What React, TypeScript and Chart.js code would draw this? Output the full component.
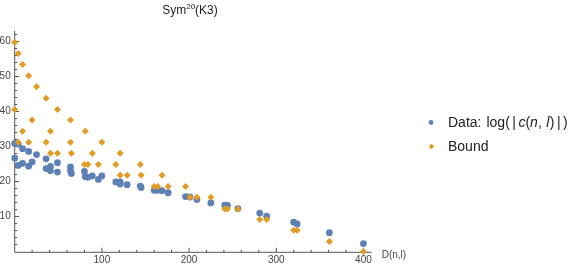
import React, { useEffect, useRef } from 'react';
import { Chart, registerables } from 'chart.js';

Chart.register(...registerables);

// D(n,l) values (shared by both series)
const dnl = [0, 0, 4, 4, 9, 9, 16, 16, 20, 25, 36, 36, 41, 41, 49, 49, 64, 64, 65, 80, 81, 84, 89, 96, 100, 116, 121, 121, 129, 144, 145, 160, 164, 169, 176, 196, 201, 209, 225, 241, 244, 256, 281, 289, 320, 324, 361, 400];
// Data: log(|c(n,l)|)
const dataY = [30.9, 26.7, 30.7, 24.6, 29.4, 25.2, 28.6, 24.4, 25.6, 27.7, 26.5, 23.7, 24.3, 23.1, 25.4, 22.7, 24.2, 23.1, 22.3, 22.9, 21.4, 21.2, 21.6, 20.6, 21.6, 19.9, 19.9, 19.3, 19.1, 18.7, 18.3, 17.5, 17.5, 17.4, 16.8, 15.7, 15.6, 14.9, 13.9, 13.3, 13.2, 12.3, 11.0, 10.1, 8.4, 7.9, 5.4, 2.3];
// Bound
const boundY = [59.8, 40.6, 56.6, 31.2, 53.4, 34.4, 50.2, 31.2, 37.6, 47.1, 43.8, 31.2, 34.4, 28.1, 40.6, 28.1, 37.6, 31.2, 28.1, 24.9, 34.4, 24.9, 28.1, 24.9, 31.2, 24.9, 28.1, 21.8, 21.8, 24.9, 21.8, 18.6, 18.6, 21.8, 18.6, 18.6, 15.5, 15.5, 15.5, 12.2, 12.2, 12.2, 9.2, 9.2, 6.1, 6.1, 2.9, 0];

const xTicks = [0, 20, 40, 60, 80, 100, 120, 140, 160, 180, 200, 220, 240, 260, 280, 300, 320, 340, 360, 380, 400];
const yTicks = [0, 2, 4, 6, 8, 10, 12, 14, 16, 18, 20, 22, 24, 26, 28, 30, 32, 34, 36, 38, 40, 42, 44, 46, 48, 50, 52, 54, 56, 58, 60, 62];
const xLabels = [100, 200, 300, 400];
const yLabels = [10, 20, 30, 40, 50, 60];

const titleMain = 'Sym';
const titleSup = '20';
const titleTail = '(K3)';
const xAxisTitle = 'D(n,l)';
const legendBound = 'Bound';
// legend label pieces: [text, italic, extra gap after (px)]
const legendData: [string, boolean, number][] = [
  ['Data:', false, 5],
  ['log(', false, 2.5],
  ['|', false, 2.5],
  ['c', true, 0],
  ['(', false, 0],
  ['n', true, 0],
  [', ', false, 0.5],
  ['l', true, 0.5],
  [')', false, 2.5],
  ['|', false, 2.5],
  [')', false, 0],
];

const BLUE = 'rgb(94,129,181)';
const ORANGE = 'rgb(225,156,36)';
const AXIS = '#555';
const LABEL = '#444';
const FONT = '"Liberation Sans", Arial, sans-serif';

const decor = {
  id: 'decor',
  beforeDatasetsDraw(chart: any) {
    const { ctx, chartArea, scales } = chart;
    const xs = scales.x;
    const ys = scales.y;
    ctx.save();
    ctx.strokeStyle = AXIS;
    ctx.lineWidth = 1;
    ctx.beginPath();
    ctx.moveTo(chartArea.left, chartArea.bottom);
    ctx.lineTo(chartArea.right, chartArea.bottom);
    ctx.moveTo(chartArea.left, chartArea.bottom);
    ctx.lineTo(chartArea.left, chartArea.top);
    ctx.stroke();
    ctx.beginPath();
    for (const v of xTicks) {
      if (v === 0) continue;
      const px = xs.getPixelForValue(v);
      const len = v % 100 === 0 ? 4.5 : 2.5;
      ctx.moveTo(px, chartArea.bottom);
      ctx.lineTo(px, chartArea.bottom - len);
    }
    for (const v of yTicks) {
      if (v === 0) continue;
      const py = ys.getPixelForValue(v);
      const len = v % 10 === 0 ? 4.5 : 2.5;
      ctx.moveTo(chartArea.left, py);
      ctx.lineTo(chartArea.left + len, py);
    }
    ctx.stroke();
    ctx.restore();
  },
  afterDraw(chart: any) {
    const { ctx, chartArea } = chart;
    ctx.save();
    // title
    ctx.fillStyle = '#222';
    ctx.textBaseline = 'alphabetic';
    ctx.font = `12px ${FONT}`;
    const w1 = ctx.measureText(titleMain).width;
    const w3 = ctx.measureText(titleTail).width;
    ctx.font = `8px ${FONT}`;
    const w2 = ctx.measureText(titleSup).width;
    const total = w1 + w2 + w3;
    let tx = 190 - total / 2;
    ctx.font = `12px ${FONT}`;
    ctx.fillText(titleMain, tx, 14);
    tx += w1;
    ctx.font = `8px ${FONT}`;
    ctx.fillText(titleSup, tx, 9);
    tx += w2;
    ctx.font = `12px ${FONT}`;
    ctx.fillText(titleTail, tx, 14);

    // x axis title
    ctx.fillStyle = LABEL;
    ctx.font = `10px ${FONT}`;
    ctx.textBaseline = 'middle';
    ctx.fillText(xAxisTitle, chartArea.right + 10, chartArea.bottom + 3);

    // legend markers
    ctx.fillStyle = BLUE;
    ctx.beginPath();
    ctx.arc(431, 122.5, 2.4, 0, Math.PI * 2);
    ctx.fill();
    ctx.fillStyle = ORANGE;
    ctx.beginPath();
    const r = 2.8;
    ctx.moveTo(431.5, 146.5 - r);
    ctx.lineTo(431.5 + r, 146.5);
    ctx.lineTo(431.5, 146.5 + r);
    ctx.lineTo(431.5 - r, 146.5);
    ctx.closePath();
    ctx.fill();

    // legend texts
    ctx.fillStyle = '#222';
    ctx.textBaseline = 'alphabetic';
    let lx = 448;
    for (const [t, it, gap] of legendData) {
      ctx.font = `${it ? 'italic ' : ''}14px ${FONT}`;
      ctx.fillText(t, lx, 126.5);
      lx += ctx.measureText(t).width + gap;
    }
    ctx.font = `14px ${FONT}`;
    ctx.fillText(legendBound, 448, 151);
    ctx.restore();
  },
};

export default function App() {
  const ref = useRef<HTMLCanvasElement>(null);
  useEffect(() => {
    if (!ref.current) return;
    const chart = new Chart(ref.current, {
      type: 'scatter',
      data: {
        datasets: [
          {
            label: 'Bound',
            data: dnl.map((x, i) => ({ x, y: boundY[i] })),
            pointStyle: 'rectRot',
            pointRadius: 3.5,
            pointBackgroundColor: ORANGE,
            pointBorderWidth: 0,
            borderColor: ORANGE,
            clip: false,
          } as any,
          {
            label: 'Data: log(|c(n, l)|)',
            data: dnl.map((x, i) => ({ x, y: dataY[i] })),
            pointStyle: 'circle',
            pointRadius: 3.4,
            pointBackgroundColor: BLUE,
            pointBorderWidth: 0,
            borderColor: BLUE,
            clip: false,
          } as any,
        ],
      },
      options: {
        animation: false,
        responsive: false,
        devicePixelRatio: 1,
        layout: { padding: { left: 0, top: 31, right: 209.3, bottom: 0 } },
        plugins: {
          legend: { display: false },
          tooltip: { enabled: false },
          title: { display: false },
        },
        scales: {
          x: {
            type: 'linear',
            min: 0,
            max: 409.5,
            border: { display: false },
            grid: { display: false, drawTicks: false },
            afterBuildTicks: (s: any) => {
              s.ticks = xTicks.map((v) => ({ value: v }));
            },
            afterFit: (s: any) => {
              s.height = 14.7;
            },
            ticks: {
              autoSkip: false,
              maxRotation: 0,
              padding: 2,
              color: LABEL,
              font: { family: FONT, size: 10 },
              callback: (v: any) => (xLabels.includes(Number(v)) ? String(v) : ''),
            },
          },
          y: {
            type: 'linear',
            min: -0.2,
            max: 63,
            border: { display: false },
            grid: { display: false, drawTicks: false },
            afterBuildTicks: (s: any) => {
              s.ticks = yTicks.map((v) => ({ value: v }));
            },
            afterFit: (s: any) => {
              s.width = 14.7;
            },
            ticks: {
              autoSkip: false,
              padding: 4,
              color: LABEL,
              font: { family: FONT, size: 10 },
              callback: (v: any) => (yLabels.includes(Number(v)) ? String(v) : ''),
            },
          },
        },
      },
      plugins: [decor],
    } as any);
    return () => chart.destroy();
  }, []);
  return (
    <div style={{ position: 'absolute', left: 0, top: 0, width: 581, height: 267, background: '#fff' }}>
      <canvas ref={ref} width={581} height={267} style={{ width: 581, height: 267, display: 'block' }} />
    </div>
  );
}
